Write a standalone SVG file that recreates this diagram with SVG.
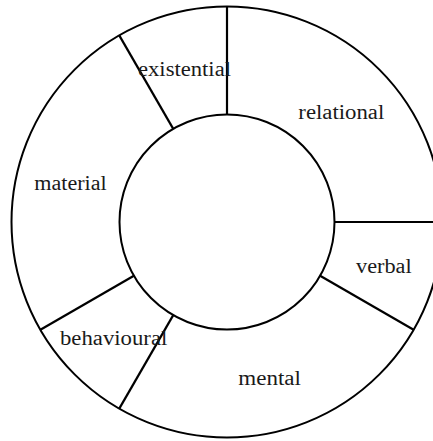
<svg xmlns="http://www.w3.org/2000/svg" width="433" height="441" viewBox="0 0 433 441">
<style>
.ring{fill:none;stroke:#000;stroke-width:2}
.div{stroke:#000;stroke-width:2.2}
.lbl{font-family:"Liberation Serif","Times New Roman",serif;font-size:20.5px;fill:#1a1a1a}
</style>
<rect width="433" height="441" fill="#fff"/>
<g id="outer-ring"><circle class="ring" cx="227" cy="222" r="215.5"/></g>
<g id="inner-circle"><circle class="ring" cx="227" cy="222" r="107.5"/></g>
<g id="connectors">
<line class="div" x1="173.25" y1="128.9" x2="119.25" y2="35.4"/>
<line class="div" x1="227" y1="114.5" x2="227" y2="6.5"/>
<line class="div" x1="334.5" y1="222" x2="442.5" y2="222"/>
<line class="div" x1="320.1" y1="275.75" x2="413.6" y2="329.75"/>
<line class="div" x1="173.25" y1="315.1" x2="119.25" y2="408.6"/>
<line class="div" x1="133.9" y1="275.75" x2="40.4" y2="329.75"/>
</g>
<g id="existential"><text class="lbl" x="138" y="75.5" textLength="93" lengthAdjust="spacingAndGlyphs">existential</text></g>
<g id="relational"><text class="lbl" x="298.3" y="119" textLength="86" lengthAdjust="spacingAndGlyphs">relational</text></g>
<g id="material"><text class="lbl" x="34.3" y="190" textLength="72.4" lengthAdjust="spacingAndGlyphs">material</text></g>
<g id="verbal"><text class="lbl" x="356" y="273.3" textLength="55.7" lengthAdjust="spacingAndGlyphs">verbal</text></g>
<g id="behavioural"><text class="lbl" x="60" y="345" textLength="107.3" lengthAdjust="spacingAndGlyphs">behavioural</text></g>
<g id="mental"><text class="lbl" x="238.3" y="385" textLength="62.7" lengthAdjust="spacingAndGlyphs">mental</text></g>
</svg>
